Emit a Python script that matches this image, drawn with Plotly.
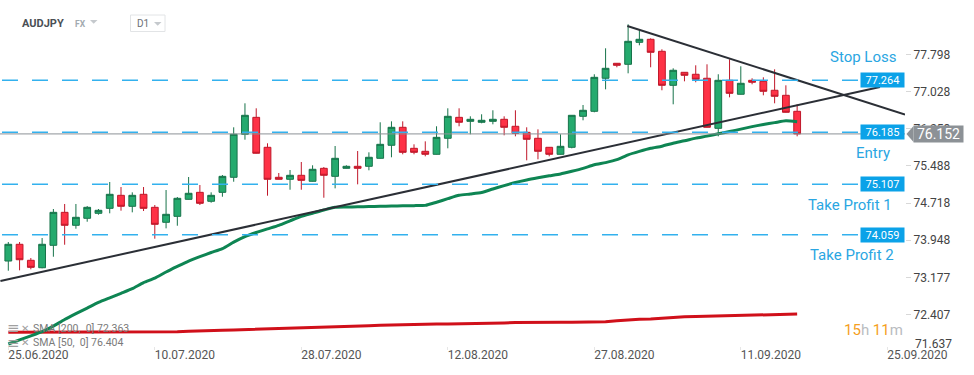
import plotly.graph_objects as go

# ---------------- data ----------------
symbol = "AUDJPY"
market = "FX"
interval = "D1"

open_ = [73.515, 73.862, 73.530, 73.376, 73.841, 74.525, 74.256, 74.401, 74.505, 74.608,
         74.878, 74.650, 74.899, 74.629, 74.318, 74.442, 74.795, 74.940, 74.754, 74.940,
         75.252, 76.144, 76.496, 75.874, 75.252, 75.210, 75.293, 75.169, 75.438, 75.272,
         75.438, 75.480, 75.480, 75.646, 75.916, 76.289, 75.853, 75.791, 75.729, 76.061,
         76.496, 76.413, 76.393, 76.413, 76.455, 76.310, 76.185, 76.061, 75.874, 75.729,
         75.874, 76.517, 76.621, 77.306, 77.617, 77.596, 78.052, 78.115, 77.866, 77.160,
         77.430, 77.389, 77.306, 76.268, 77.264, 76.974, 77.264, 77.243, 77.057, 76.953,
         76.621]
high = [73.909, 73.909, 73.577, 73.992, 74.594, 74.698, 74.698, 74.656, 74.594, 75.154,
        75.050, 74.940, 75.050, 74.677, 74.988, 74.843, 75.258, 75.092, 74.940, 75.299,
        76.289, 76.787, 76.683, 75.957, 75.341, 75.403, 75.569, 75.501, 75.465, 75.901,
        75.501, 75.797, 75.770, 76.393, 76.413, 76.413, 75.936, 75.998, 76.310, 76.683,
        76.683, 76.517, 76.559, 76.642, 76.517, 76.642, 76.289, 76.247, 75.879, 76.144,
        76.543, 76.752, 77.389, 77.928, 77.622, 78.426, 78.301, 78.135, 77.907, 77.513,
        77.435, 77.575, 77.596, 77.389, 77.700, 77.555, 77.306, 77.326, 77.492, 77.160,
        76.766]
low = [73.314, 73.322, 73.343, 73.364, 73.604, 73.853, 74.185, 74.330, 74.476, 74.505,
       74.559, 74.525, 74.552, 73.978, 74.193, 74.247, 74.790, 74.677, 74.725, 74.849,
       75.160, 76.032, 75.745, 74.870, 75.205, 74.994, 74.994, 75.164, 74.828, 75.023,
       75.434, 75.106, 75.397, 75.640, 75.667, 75.729, 75.729, 75.687, 75.724, 75.853,
       76.310, 76.144, 76.372, 76.351, 76.123, 76.102, 75.604, 75.625, 75.687, 75.724,
       75.853, 76.434, 76.600, 77.077, 77.534, 77.409, 77.990, 77.534, 77.057, 76.766,
       77.243, 77.223, 76.284, 76.102, 76.911, 76.969, 77.181, 76.953, 76.787, 76.595,
       76.102]
close = [73.862, 73.542, 73.384, 73.862, 74.525, 74.256, 74.422, 74.629, 74.567, 74.899,
         74.650, 74.878, 74.608, 74.276, 74.484, 74.816, 74.920, 74.712, 74.878, 75.272,
         76.144, 76.538, 75.750, 75.210, 75.210, 75.293, 75.189, 75.418, 75.293, 75.646,
         75.480, 75.438, 75.667, 75.936, 76.289, 75.770, 75.770, 75.729, 76.081, 76.517,
         76.393, 76.455, 76.434, 76.455, 76.289, 76.164, 76.040, 75.791, 75.729, 75.895,
         76.538, 76.642, 77.326, 77.513, 77.575, 78.073, 78.115, 77.845, 77.160, 77.472,
         77.368, 77.285, 76.289, 77.264, 76.994, 77.202, 77.223, 77.036, 76.932, 76.600,
         76.152]

sma50 = [71.793, 71.878, 71.961, 72.048, 72.164, 72.301, 72.422, 72.538, 72.656, 72.752,
         72.845, 72.940, 73.067, 73.160, 73.287, 73.403, 73.515, 73.606, 73.691, 73.772,
         73.907, 74.021, 74.106, 74.181, 74.254, 74.349, 74.442, 74.507, 74.573, 74.629,
         74.635, 74.640, 74.644, 74.650, 74.656, 74.660, 74.664, 74.669, 74.735, 74.808,
         74.878, 74.905, 74.936, 75.009, 75.079, 75.144, 75.196, 75.241, 75.283, 75.322,
         75.378, 75.438, 75.511, 75.557, 75.617, 75.718, 75.789, 75.853, 75.897, 75.959,
         76.009, 76.065, 76.106, 76.154, 76.200, 76.252, 76.303, 76.347, 76.386, 76.424,
         76.404]
sma200 = [72.036, 72.036, 72.036, 72.036, 72.036, 72.036, 72.036, 72.036, 72.036, 72.036,
          72.036, 72.036, 72.036, 72.036, 72.040, 72.046, 72.056, 72.069, 72.075, 72.081,
          72.086, 72.092, 72.098, 72.106, 72.115, 72.123, 72.131, 72.131, 72.135, 72.150,
          72.158, 72.166, 72.173, 72.181, 72.189, 72.193, 72.200, 72.202, 72.206, 72.206,
          72.208, 72.214, 72.220, 72.227, 72.231, 72.239, 72.243, 72.243, 72.243, 72.243,
          72.243, 72.243, 72.243, 72.256, 72.278, 72.297, 72.305, 72.312, 72.328, 72.347,
          72.359, 72.363, 72.368, 72.372, 72.378, 72.386, 72.395, 72.403, 72.407, 72.411,
          72.415]
sma_labels = ["SMA [200,  0] 72.363", "SMA [50,  0] 76.404"]

x_tick_index = [0, 13, 26, 39, 52, 65, 78]
x_tick_labels = ["25.06.2020", "10.07.2020", "28.07.2020", "12.08.2020",
                 "27.08.2020", "11.09.2020", "25.09.2020"]
y_tick_values = [72.407, 73.177, 73.948, 74.718, 75.488, 76.258, 77.028, 77.798]
y_bottom_label = "71.637"

levels = [77.264, 76.185, 75.107, 74.059]
level_names = ["Stop Loss", "Entry", "Take Profit 1", "Take Profit 2"]
last_price = 76.152

rising_x = [-0.7, 77.35]
rising_y = [73.100, 77.125]
falling_x = [54.93, 79.57]
falling_y = [78.391, 76.555]

countdown = ("15", "h", "11", "m")

# ---------------- figure ----------------
W, H = 974, 375
ML, MR, MT, MB = 0, 69, 0, 25
PW, PH = W - ML - MR, H - MT - MB
X_RANGE = [-0.737, 79.57]
Y_RANGE = [71.669, 78.930]

def px(x):
    return x / PW

def py(y):
    return 1 - y / PH

def yp(v):
    return (v - Y_RANGE[0]) / (Y_RANGE[1] - Y_RANGE[0])

FONT = "Roboto, 'Open Sans', Arial, sans-serif"
GREEN_FILL, GREEN_LINE = "#25aa6e", "#17734a"
RED_FILL, RED_LINE = "#fe3246", "#c0182a"
BLUE = "#2aa6e2"
LEVEL_BLUE = "#33b1ee"
BOX_BLUE = "#0ba2e8"

idx = list(range(len(close)))

fig = go.Figure()
fig.add_trace(go.Candlestick(
    x=idx, open=open_, high=high, low=low, close=close,
    increasing=dict(line=dict(color=GREEN_LINE, width=1), fillcolor=GREEN_FILL),
    decreasing=dict(line=dict(color=RED_LINE, width=1), fillcolor=RED_FILL),
    whiskerwidth=0, showlegend=False, hoverinfo="skip",
))
fig.add_trace(go.Scatter(x=idx, y=sma200, mode="lines",
                         line=dict(color="#d0101a", width=3), hoverinfo="skip", showlegend=False))
fig.add_trace(go.Scatter(x=idx, y=sma50, mode="lines",
                         line=dict(color="#0e8553", width=3, shape="spline", smoothing=0.6),
                         hoverinfo="skip", showlegend=False))
fig.add_trace(go.Scatter(x=rising_x, y=rising_y, mode="lines",
                         line=dict(color="#2b2f36", width=2), hoverinfo="skip", showlegend=False))
fig.add_trace(go.Scatter(x=falling_x, y=falling_y, mode="lines",
                         line=dict(color="#2b2f36", width=2), hoverinfo="skip", showlegend=False))

shapes = []
annotations = []

# level dashed lines + boxes + names
name_shift = [23, -21, -21, -20]
name_xshift = [-7, -13, -11, -9]
for lv, nm, ys, xs in zip(levels, level_names, name_shift, name_xshift):
    shapes.append(dict(type="line", xref="paper", yref="y", x0=px(2), x1=px(860),
                       y0=lv, y1=lv, line=dict(color=LEVEL_BLUE, width=1.5, dash="16px,14px"),
                       layer="above"))
    annotations.append(dict(xref="paper", yref="y", x=1, y=lv, xanchor="right", yanchor="middle",
                            text=f"{lv:.3f}", showarrow=False, bgcolor=BOX_BLUE,
                            width=41, height=12, borderpad=1,
                            font=dict(family=FONT, size=11, color="#ffffff")))
    annotations.append(dict(xref="paper", yref="y", x=1, y=lv, xanchor="right", yanchor="middle",
                            yshift=ys, xshift=xs, text=nm, showarrow=False,
                            font=dict(family=FONT, size=15, color=BLUE)))

# last price line + tag
shapes.append(dict(type="line", xref="paper", yref="y", x0=0, x1=1, y0=last_price, y1=last_price,
                   line=dict(color="#8d9297", width=1), layer="above"))
yl = yp(last_price)
shapes.append(dict(type="path", xref="paper", yref="paper",
                   path=f"M {px(906.5)},{yl} L {px(913.5)},{yl + 8/PH} L {px(913.5)},{yl - 8/PH} Z",
                   fillcolor="#8c9196", line=dict(width=0)))
annotations.append(dict(xref="paper", yref="y", x=px(913), y=last_price, xanchor="left",
                        yanchor="middle", text=f"{last_price:.3f}", showarrow=False,
                        bgcolor="#8c9196", width=47, height=14, borderpad=1,
                        font=dict(family=FONT, size=14, color="#ffffff")))

# bottom clipped y label
annotations.append(dict(xref="paper", yref="paper", x=px(913), y=py(344), xanchor="left",
                        yanchor="middle", text=y_bottom_label, showarrow=False,
                        font=dict(family=FONT, size=12, color="#444")))

# header
annotations.append(dict(xref="paper", yref="paper", x=px(20), y=py(23), xanchor="left",
                        yanchor="middle", text=f"<b>{symbol}</b>", showarrow=False,
                        font=dict(family=FONT, size=11, color="#4a4f55")))
annotations.append(dict(xref="paper", yref="paper", x=px(73), y=py(24), xanchor="left",
                        yanchor="middle", text=f"<b>{market}</b>", showarrow=False,
                        font=dict(family=FONT, size=8.5, color="#a3aab0")))
shapes.append(dict(type="path", xref="paper", yref="paper",
                   path=f"M {px(90)},{py(20)} L {px(97.5)},{py(20)} L {px(93.7)},{py(23.8)} Z",
                   fillcolor="#c5c9cd", line=dict(width=0)))
shapes.append(dict(type="rect", xref="paper", yref="paper", x0=px(130.5), x1=px(165),
                   y0=py(31.5), y1=py(15), line=dict(color="#e2e4e6", width=1), fillcolor="white"))
annotations.append(dict(xref="paper", yref="paper", x=px(134.5), y=py(23.5), xanchor="left",
                        yanchor="middle", text=interval, showarrow=False,
                        font=dict(family=FONT, size=10, color="#6b7075")))
shapes.append(dict(type="path", xref="paper", yref="paper",
                   path=f"M {px(154)},{py(22)} L {px(161.5)},{py(22)} L {px(157.7)},{py(25.8)} Z",
                   fillcolor="#c5c9cd", line=dict(width=0)))

# SMA legend
for i, lab in enumerate(sma_labels):
    yy = 328 + i * 14.5
    annotations.append(dict(xref="paper", yref="paper", x=px(5), y=py(yy), xanchor="left",
                            yanchor="middle", text="≡", showarrow=False,
                            font=dict(family="DejaVu Sans", size=15, color="#a0a0a0")))
    annotations.append(dict(xref="paper", yref="paper", x=px(19), y=py(yy), xanchor="left",
                            yanchor="middle", text="✕", showarrow=False,
                            font=dict(family="DejaVu Sans", size=10, color="#a0a0a0")))
    annotations.append(dict(xref="paper", yref="paper", x=px(31), y=py(yy), xanchor="left",
                            yanchor="middle", text=lab.replace("  ", "&nbsp; "), showarrow=False,
                            font=dict(family=FONT, size=10.5, color="#7a7a7a")))

# countdown
annotations.append(dict(xref="paper", yref="paper", x=1, y=py(330), xanchor="right",
                        yanchor="middle", showarrow=False,
                        text=(f'<span style="color:#f5a01e">{countdown[0]}</span>'
                              f'<span style="color:#b9bcbf">{countdown[1]} </span>'
                              f'<span style="color:#f5a01e">{countdown[2]}</span>'
                              f'<span style="color:#b9bcbf">{countdown[3]}</span>'),
                        font=dict(family=FONT, size=15)))

fig.update_layout(
    width=W, height=H,
    margin=dict(l=ML, r=MR, t=MT, b=MB),
    paper_bgcolor="white", plot_bgcolor="white",
    boxgap=0.14, boxgroupgap=0.3,
    showlegend=False,
    shapes=shapes, annotations=annotations,
    xaxis=dict(range=X_RANGE, rangeslider=dict(visible=False), showgrid=False, zeroline=False,
               tickmode="array", tickvals=x_tick_index, ticktext=x_tick_labels,
               ticks="inside", ticklen=3, tickcolor="#e6e6e6", ticklabelshift=30,
               ticklabelstandoff=-4,
               tickfont=dict(family=FONT, size=12, color="#555"), showline=False),
    yaxis=dict(range=Y_RANGE, side="right", showgrid=False, zeroline=False,
               tickmode="array", tickvals=y_tick_values,
               ticktext=[f"{v:.3f}" for v in y_tick_values],
               ticks="outside", ticklen=5, tickcolor="#d8d8d8",
               tickfont=dict(family=FONT, size=12, color="#444"), showline=False),
    font=dict(family=FONT),
)

fig.write_html("out.html",
               config={"displayModeBar": False},
               post_script="document.body.style.margin='0';document.body.style.padding='0';")
